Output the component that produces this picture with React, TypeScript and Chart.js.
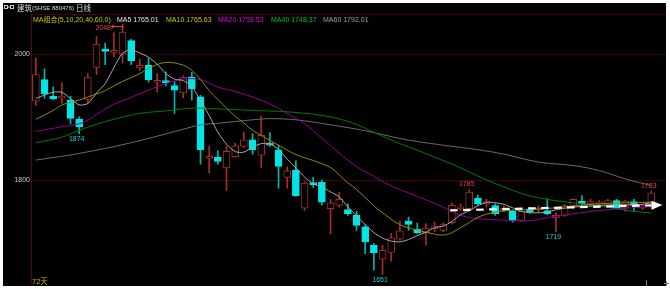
import React, { useEffect, useRef } from 'react';
import { Chart, registerables } from 'chart.js';

Chart.register(...registerables);

// ---- Data (72 daily candles) ----
const opens = [
  1925.7, 1959.8, 1933.5, 1930.4, 1926.8, 1896.9, 1928.3, 1979.2, 2008.2, 2003.0,
  2000.3, 2021.7, 1978.3, 1982.4, 1955.6, 1957.5, 1950.4, 1938.9, 1964.0, 1932.6,
  1835.0, 1836.5, 1819.7, 1837.8, 1853.9, 1864.2, 1840.2, 1858.6, 1848.5, 1805.0,
  1816.5, 1756.0, 1795.6, 1797.0, 1755.1, 1760.3, 1754.0, 1744.6, 1726.3, 1697.3,
  1675.3, 1685.8, 1706.8, 1735.7, 1722.5, 1717.3, 1723.6, 1721.0, 1733.0, 1755.0,
  1755.0, 1772.0, 1763.0, 1760.3, 1752.4, 1751.0, 1736.7, 1755.0, 1753.5, 1752.4,
  1740.5, 1744.6, 1760.6, 1767.0, 1763.0, 1763.0, 1760.3, 1768.2, 1756.2, 1766.6,
  1756.2, 1764.0,
];
const highs = [
  1994.5, 1977.0, 1948.3, 1954.6, 1933.5, 1901.0, 1969.0, 2028.0, 2017.6, 2033.9,
  2048.0, 2024.0, 1992.4, 1994.0, 1969.3, 1972.0, 1956.7, 1966.0, 1971.3, 1935.0,
  1854.0, 1847.0, 1854.0, 1859.0, 1876.4, 1874.0, 1902.0, 1876.0, 1856.0, 1821.7,
  1831.0, 1798.0, 1805.0, 1801.0, 1769.3, 1781.4, 1763.0, 1751.0, 1730.0, 1700.0,
  1697.3, 1715.7, 1735.7, 1742.0, 1732.6, 1731.5, 1734.0, 1733.0, 1764.6, 1763.0,
  1785.0, 1777.0, 1770.0, 1763.0, 1759.0, 1753.0, 1752.0, 1757.0, 1760.0, 1770.9,
  1749.0, 1762.0, 1771.0, 1776.0, 1770.0, 1768.0, 1770.0, 1770.0, 1769.0, 1770.0,
  1762.0, 1783.0,
];
const lows = [
  1919.0, 1930.4, 1928.0, 1922.0, 1889.5, 1874.0, 1923.0, 1967.7, 1983.5, 1996.5,
  1986.0, 1983.5, 1974.5, 1955.6, 1940.0, 1950.0, 1906.3, 1931.0, 1927.2, 1826.0,
  1811.8, 1826.0, 1784.0, 1837.0, 1852.3, 1841.7, 1820.8, 1854.0, 1787.7, 1787.7,
  1774.5, 1752.4, 1789.0, 1761.4, 1715.7, 1757.8, 1744.6, 1721.0, 1684.0, 1658.0,
  1651.0, 1672.0, 1705.5, 1721.0, 1716.0, 1697.3, 1719.0, 1719.0, 1731.0, 1752.0,
  1752.0, 1761.4, 1757.8, 1744.6, 1750.0, 1734.0, 1735.0, 1748.0, 1750.0, 1745.5,
  1719.0, 1743.0, 1759.0, 1761.0, 1760.0, 1761.0, 1759.0, 1755.0, 1751.0, 1751.0,
  1754.0, 1755.0,
];
const closes = [
  1967.7, 1937.3, 1929.4, 1932.6, 1898.4, 1884.7, 1964.0, 2016.0, 2004.4, 2004.5,
  2035.0, 1989.8, 1982.4, 1959.8, 1958.3, 1955.0, 1943.0, 1964.0, 1945.2, 1848.5,
  1838.0, 1830.0, 1846.0, 1854.8, 1864.2, 1848.5, 1871.7, 1856.0, 1822.4, 1815.4,
  1776.0, 1796.0, 1793.4, 1765.7, 1764.6, 1770.0, 1747.2, 1728.8, 1702.7, 1685.4,
  1689.4, 1709.0, 1720.0, 1730.4, 1717.3, 1724.7, 1726.3, 1730.0, 1760.6, 1758.3,
  1781.4, 1763.0, 1766.6, 1747.2, 1756.2, 1735.7, 1751.0, 1749.9, 1756.2, 1747.2,
  1744.6, 1760.3, 1770.0, 1763.0, 1766.6, 1765.7, 1768.2, 1756.2, 1767.3, 1760.3,
  1760.3, 1780.3,
];

// Moving-average lines
const ma5 = [
  1929.9, 1935.4, 1939.8, 1939.8, 1929.9, 1919.7, 1922.0, 1938.6, 1953.5, 1978.7,
  2001.6, 2007.1, 2001.9, 1995.3, 1984.3, 1969.3, 1960.6, 1958.3, 1948.8, 1926.8,
  1903.0, 1876.4, 1857.5, 1845.7, 1844.9, 1852.8, 1858.3, 1858.3, 1848.8, 1833.9,
  1819.7, 1805.5, 1794.5, 1789.8, 1781.9, 1774.0, 1758.3, 1744.1, 1729.9, 1717.3,
  1708.7, 1703.9, 1702.7, 1706.3, 1712.6, 1718.1, 1725.2, 1727.6, 1735.0, 1745.7,
  1752.0, 1759.8, 1765.4, 1764.6, 1762.2, 1756.7, 1751.2, 1748.8, 1748.8, 1749.9,
  1753.5, 1755.9, 1757.8, 1758.7, 1759.4, 1760.3, 1760.9, 1761.4, 1761.4, 1761.4,
  1762.2, 1765.0,
];
const ma10Idx = [0, 2, 3, 5, 6, 8, 10, 12, 13, 15, 17, 18, 19, 20, 21, 23, 24, 25, 28, 30, 32, 34, 35, 36, 37, 39, 40, 42, 44, 46, 47, 48, 49, 50, 51, 53, 55, 57, 60, 62, 65, 68, 71];
const ma10Val = [1896.9, 1911.0, 1919.7, 1927.6, 1932.3, 1942.5, 1957.0, 1969.3, 1978.0, 1987.1, 1982.7, 1974.5, 1959.8, 1942.5, 1928.3, 1901.6, 1891.3, 1879.5, 1855.9, 1841.0, 1831.5, 1820.5, 1808.7, 1796.1, 1785.8, 1759.8, 1748.8, 1729.9, 1721.3, 1715.0, 1713.4, 1717.3, 1725.2, 1733.1, 1741.7, 1749.9, 1752.8, 1754.0, 1756.7, 1759.4, 1763.0, 1764.6, 1765.6];
const ma20Idx = [0, 3, 5, 6, 7, 9, 11, 13, 15, 17, 19, 21, 23, 25, 27, 29, 31, 33, 35, 37, 39, 41, 43, 45, 47, 49, 51, 54, 57, 59, 62, 65, 68, 71];
const ma20Val = [1878.0, 1885.0, 1889.8, 1895.3, 1904.7, 1920.5, 1931.5, 1943.3, 1953.5, 1960.6, 1959.8, 1948.0, 1940.9, 1932.3, 1921.3, 1906.3, 1889.8, 1866.9, 1843.3, 1822.0, 1806.3, 1791.3, 1780.3, 1769.3, 1757.5, 1744.9, 1739.4, 1737.0, 1736.2, 1741.0, 1747.2, 1752.4, 1755.9, 1758.5];
const ma40Idx = [0, 3, 5, 7, 9, 12, 15, 18, 21, 25, 29, 33, 36, 38, 40, 42, 44, 46, 48, 50, 52, 54, 56, 58, 61, 64, 67, 69, 71];
const ma40Val = [1859.8, 1868.5, 1879.5, 1889.0, 1896.9, 1906.3, 1910.2, 1914.6, 1913.4, 1911.0, 1908.7, 1903.1, 1893.7, 1882.7, 1870.1, 1858.3, 1848.0, 1837.0, 1826.0, 1813.4, 1800.8, 1789.8, 1779.5, 1772.4, 1766.1, 1761.4, 1755.1, 1751.2, 1748.4];
const ma60Idx = [0, 5, 11, 17, 19, 21, 25, 27, 30, 34, 38, 42, 44, 47, 51, 54, 58, 62, 65, 68, 70, 71];
const ma60Val = [1832.3, 1842.8, 1859.8, 1881.1, 1888.2, 1890.6, 1896.1, 1898.0, 1896.1, 1888.2, 1878.7, 1866.5, 1861.7, 1855.9, 1848.8, 1841.7, 1829.1, 1823.6, 1815.7, 1802.4, 1795.3, 1792.0];

const yTicks = [1800, 2000];
const markIdx = [10, 5, 40, 50, 60, 71];
const markVal = [2048, 1874, 1651, 1785, 1719, 1783];
const trendFrom = [47.8, 1752.5];
const trendTo = [72.3, 1761.0];

const legendItems = ['MA组合(5,10,20,40,60,0)', 'MA5 1765.01', 'MA10 1765.63', 'MA20 1758.53', 'MA40 1748.37', 'MA60 1792.01'];
const dayCount = '72天';

// ---- Styles ----
const RED = '#a82c2c';
const CYAN = '#00e6e6';
const FONT = "'Liberation Sans', Arial, sans-serif";
const CJK = "'Noto Sans CJK SC', sans-serif";
const legendColors = ['#c8c800', '#e6e6e6', '#c8c800', '#e000e0', '#00c800', '#a0a0a0'];
const legendX = [33, 117, 166, 218, 271, 323];

function pts(idx: number[], vals: number[]) {
  return idx.map((i, k) => ({ x: i, y: vals[k] }));
}

const overlay = {
  id: 'overlay',
  beforeDraw(chart: any) {
    const { ctx, width, height } = chart;
    ctx.save();
    ctx.fillStyle = '#ffffff';
    ctx.fillRect(0, 0, width, height);
    ctx.fillStyle = '#000000';
    ctx.fillRect(3, 3, 663, 283);
    ctx.restore();
  },
  afterDatasetsDraw(chart: any) {
    const { ctx, chartArea: a, scales } = chart;
    const xs = scales.x;
    const ys = scales.y;
    ctx.save();
    // top frame line
    ctx.strokeStyle = '#480000';
    ctx.lineWidth = 1;
    ctx.beginPath();
    ctx.moveTo(a.left, 14.5);
    ctx.lineTo(666, 14.5);
    ctx.stroke();

    // dashed trend arrow
    const x0 = xs.getPixelForValue(trendFrom[0]);
    const y0 = ys.getPixelForValue(trendFrom[1]);
    const x1 = xs.getPixelForValue(trendTo[0]);
    const y1 = ys.getPixelForValue(trendTo[1]);
    const len = Math.hypot(x1 - x0, y1 - y0);
    const ux = (x1 - x0) / len;
    const uy = (y1 - y0) / len;
    const head = 11;
    ctx.strokeStyle = '#ffffff';
    ctx.lineWidth = 2.2;
    ctx.setLineDash([7.5, 5.5]);
    ctx.beginPath();
    ctx.moveTo(x0, y0);
    ctx.lineTo(x1 - ux * head, y1 - uy * head);
    ctx.stroke();
    ctx.setLineDash([]);
    ctx.fillStyle = '#ffffff';
    ctx.beginPath();
    ctx.moveTo(x1, y1);
    ctx.lineTo(x1 - ux * head - uy * 4.5, y1 - uy * head + ux * 4.5);
    ctx.lineTo(x1 - ux * head + uy * 4.5, y1 - uy * head - ux * 4.5);
    ctx.closePath();
    ctx.fill();

    // high / low marks
    ctx.font = `7px ${FONT}`;
    ctx.textBaseline = 'middle';
    markIdx.forEach((i, k) => {
      const v = markVal[k];
      const isHigh = Math.abs(highs[i] - v) < Math.abs(lows[i] - v);
      const px = xs.getPixelForValue(i);
      const py = ys.getPixelForValue(v);
      const label = String(v);
      if (isHigh && py - 12 < a.top + 12) {
        ctx.fillStyle = '#e04040';
        ctx.strokeStyle = '#e04040';
        ctx.textAlign = 'right';
        ctx.fillText(label, px - 11.5, py + 4);
        ctx.lineWidth = 1;
        ctx.beginPath();
        ctx.moveTo(px - 11, py + 2.5);
        ctx.lineTo(px + 0.5, py + 2.5);
        ctx.lineTo(px + 0.5, py + 4.5);
        ctx.stroke();
        ctx.beginPath();
        ctx.moveTo(px - 11, py + 2.5);
        ctx.lineTo(px - 8.5, py + 1);
        ctx.moveTo(px - 11, py + 2.5);
        ctx.lineTo(px - 8.5, py + 4);
        ctx.stroke();
      } else {
        ctx.fillStyle = isHigh ? '#e04040' : '#10d8d8';
        ctx.textAlign = 'center';
        ctx.fillText(label, px - 2.5, isHigh ? py - 5.5 : py + 5.5);
      }
    });

    // title bar
    ctx.strokeStyle = '#c8c8c8';
    ctx.lineWidth = 1;
    ctx.strokeRect(4.5, 5.5, 3, 3);
    ctx.strokeRect(10.5, 5.5, 3, 3);
    ctx.beginPath();
    ctx.moveTo(7.5, 7);
    ctx.lineTo(10.5, 7);
    ctx.stroke();
    ctx.textAlign = 'left';
    ctx.textBaseline = 'alphabetic';
    ctx.fillStyle = '#dcdcdc';
    let tx = 17;
    ctx.font = `7.5px ${CJK}`;
    ctx.fillText('建筑', tx, 10.5);
    tx += ctx.measureText('建筑').width;
    ctx.font = `6px ${FONT}`;
    ctx.fillText('(SHSE 880476)', tx, 10);
    tx += ctx.measureText('(SHSE 880476)').width + 2;
    ctx.font = `7.5px ${CJK}`;
    ctx.fillText('日线', tx, 10.5);

    // MA legend
    legendItems.forEach((t, k) => {
      ctx.fillStyle = legendColors[k];
      ctx.font = `7px ${FONT}, ${CJK}`;
      ctx.fillText(t, legendX[k], 21.5);
    });

    // day count
    ctx.fillStyle = '#c8b400';
    ctx.font = `7.5px ${FONT}, ${CJK}`;
    ctx.fillText(dayCount, 32, 284);

    // bottom-right marks
    ctx.strokeStyle = '#808080';
    ctx.beginPath();
    ctx.moveTo(646.5, 280);
    ctx.lineTo(646.5, 286);
    ctx.moveTo(664, 283.5);
    ctx.lineTo(669, 283.5);
    ctx.moveTo(666.5, 281);
    ctx.lineTo(666.5, 286);
    ctx.stroke();
    ctx.restore();
  },
};

export default function App() {
  const ref = useRef<HTMLCanvasElement>(null);
  useEffect(() => {
    document.body.style.margin = '0';
    const canvas = ref.current;
    if (!canvas) return;
    const up = closes.map((c, i) => c >= opens[i]);
    const lineBase = { type: 'line', pointRadius: 0, borderWidth: 1, fill: false, spanGaps: true, order: 0 };
    const chart = new Chart(canvas, {
      type: 'bar',
      data: {
        datasets: [
          { ...lineBase, label: 'MA5', data: ma5.map((v, i) => ({ x: i, y: v })), borderColor: '#a8a8a8', tension: 0.25 },
          { ...lineBase, label: 'MA10', data: pts(ma10Idx, ma10Val), borderColor: '#8c8c00', tension: 0.35 },
          { ...lineBase, label: 'MA20', data: pts(ma20Idx, ma20Val), borderColor: '#900090', tension: 0.35 },
          { ...lineBase, label: 'MA40', data: pts(ma40Idx, ma40Val), borderColor: '#007a00', tension: 0.35 },
          { ...lineBase, label: 'MA60', data: pts(ma60Idx, ma60Val), borderColor: '#6a6a6a', tension: 0.35 },
          {
            type: 'bar',
            label: 'body',
            data: opens.map((o, i) => ({ x: i, y: [o, closes[i]] })),
            backgroundColor: up.map((u) => (u ? '#000000' : CYAN)),
            borderColor: up.map((u) => (u ? RED : CYAN)),
            borderWidth: 1,
            borderSkipped: false,
            barThickness: 7,
            minBarLength: 2,
            grouped: false,
            order: 1,
          },
          {
            type: 'bar',
            label: 'wick',
            data: lows.map((l, i) => ({ x: i, y: [l, highs[i]] })),
            backgroundColor: up.map((u) => (u ? RED : '#00b4b4')),
            borderWidth: 0,
            barThickness: 1,
            grouped: false,
            order: 2,
          },
        ] as any,
      },
      options: {
        responsive: false,
        animation: false,
        devicePixelRatio: 1,
        events: [],
        layout: { padding: { left: 3.5, top: 14, right: 4, bottom: 4 } },
        plugins: { legend: { display: false }, tooltip: { enabled: false } },
        scales: {
          x: { type: 'linear', display: false, min: -0.5, max: 72.7, offset: false },
          y: {
            type: 'linear',
            min: 1637,
            max: 2063.8,
            afterFit: (s: any) => {
              s.width = 28;
            },
            afterBuildTicks: (s: any) => {
              s.ticks = yTicks.map((v) => ({ value: v }));
            },
            ticks: {
              color: '#c8c8c8',
              font: { size: 7, family: FONT },
              padding: 1.5,
              callback: (v: any) => String(v),
            },
            grid: { color: '#420000', drawTicks: false, lineWidth: 1 },
            border: { color: '#640000', width: 1 },
          },
        },
      } as any,
      plugins: [overlay],
    });
    return () => chart.destroy();
  }, []);
  return <canvas ref={ref} width={670} height={289} style={{ display: 'block', width: 670, height: 289 }} />;
}
